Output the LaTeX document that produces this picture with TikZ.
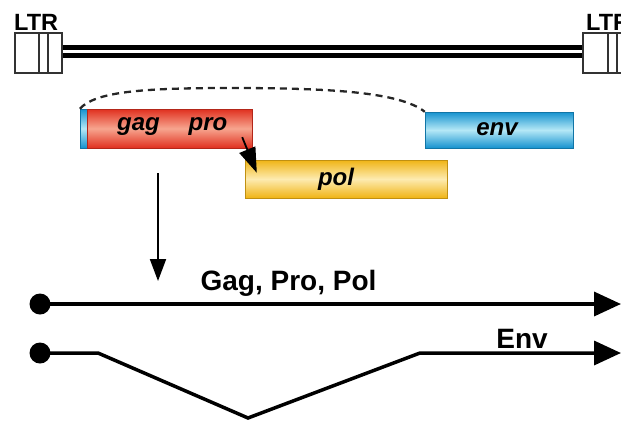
\documentclass[tikz,border=0pt]{standalone}
\usepackage{fontspec}
\setmainfont{Liberation Sans}
\usetikzlibrary{arrows.meta}
\definecolor{redD}{HTML}{E0301F}
\definecolor{redL}{HTML}{F7A58F}
\definecolor{yelD}{HTML}{F0B415}
\definecolor{yelL}{HTML}{FDEBB0}
\definecolor{bluD}{HTML}{1592CF}
\definecolor{bluL}{HTML}{B5E8F6}
\begin{document}
\begin{tikzpicture}[x=1pt,y=-1pt,
  ltrbox/.style={draw=black!80, line width=1.2pt, fill=white, minimum width=47pt, minimum height=40pt, inner sep=0pt},
  gene/.style={inner sep=0pt, draw=#1!80!black, line width=0.4pt},
  genetxt/.style={font=\fontsize{24}{26}\selectfont\bfseries\itshape},
  lbl/.style={font=\fontsize{28}{30}\selectfont\bfseries, anchor=base, inner sep=0pt},
  ltrtxt/.style={font=\fontsize{23.5}{25}\selectfont\bfseries, anchor=base west, inner sep=0pt},
  dot/.style={circle, fill=black, minimum size=21pt, inner sep=0pt},
  mainline/.style={line width=3.5pt, -{Triangle[length=27pt,width=24pt]}},
  thinarrow/.style={line width=2pt, -{Triangle[length=22pt,width=16pt]}}
]
\useasboundingbox (0,0) rectangle (621,421);
\clip (0,0) rectangle (621,421);

% LTRs
\node[ltrbox] (ltrL) at (38.5,53) {};
\draw[line width=1.2pt, black!80] (39,33) -- (39,73) (48,33) -- (48,73);
\node[ltrbox, minimum width=50pt] (ltrR) at (608,53) {};
\draw[line width=1.2pt, black!80] (608,33) -- (608,73) (617,33) -- (617,73);
\node[ltrtxt] (ltrLt) at (14,30) {LTR};
\node[ltrtxt] (ltrRt) at (586,30) {LTR};

% double line
\draw[line width=4.5pt] ([yshift=5.5pt]ltrL.east) -- ([yshift=5.5pt]ltrR.west);
\draw[line width=4.5pt] ([yshift=-2.5pt]ltrL.east) -- ([yshift=-2.5pt]ltrR.west);

% genes
\node[gene=bluD, shade, top color=bluD, bottom color=bluD, middle color=bluL, minimum width=7pt, minimum height=39pt] (stub) at (83.5,128.5) {};
\node[gene=redD, shade, top color=redD, bottom color=redD, middle color=redL, minimum width=165pt, minimum height=39pt] (gag) at (169.5,128.5) {};
\node[gene=yelD, shade, top color=yelD, bottom color=yelD, middle color=yelL, minimum width=202pt, minimum height=38pt] (pol) at (346,179) {};
\node[gene=bluD, shade, top color=bluD, bottom color=bluD, middle color=bluL, minimum width=148pt, minimum height=36pt] (env) at (499,130) {};

\node[genetxt] (gagt) at (138.5,127) {gag};
\node[genetxt] (prot) at (208,127) {pro};
\node[genetxt] (polt) at (336,179) {pol};
\node[genetxt] (envt) at (497,129) {env};

% splice dashed arc
\draw[line width=2.3pt, dash pattern=on 7pt off 5pt, black!85]
  (stub.north west) .. controls (95,92) and (140,88) .. (230,88)
  .. controls (330,88) and (400,92) .. (env.north west);

% pro -> pol arrow
\draw[line width=1.8pt, -{Triangle[length=25pt,width=17pt]}]
  ([xshift=-10pt,yshift=11pt]gag.south east) -- ([xshift=12pt,yshift=-13pt]pol.north west);

% downward arrow
\coordinate (dtop) at (158,173);
\coordinate (dbot) at (158,281);
\draw[thinarrow] (dtop) -- (dbot);

% transcripts
\node[dot] (s1) at (40,304) {};
\coordinate (e1) at (621,304);
\draw[mainline] (s1.center) -- (e1);
\node[lbl] (l1) at (288.5,290) {Gag, Pro, Pol};

\node[dot] (s2) at (40,353) {};
\coordinate (e2) at (621,353);
\coordinate (k1) at (98,353);
\coordinate (k2) at (248,418);
\coordinate (k3) at (420,353);
\draw[mainline] (s2.center) -- (k1) -- (k2) -- (k3) -- (e2);
\node[lbl] (l2) at (522,348) {Env};
\end{tikzpicture}
\end{document}
